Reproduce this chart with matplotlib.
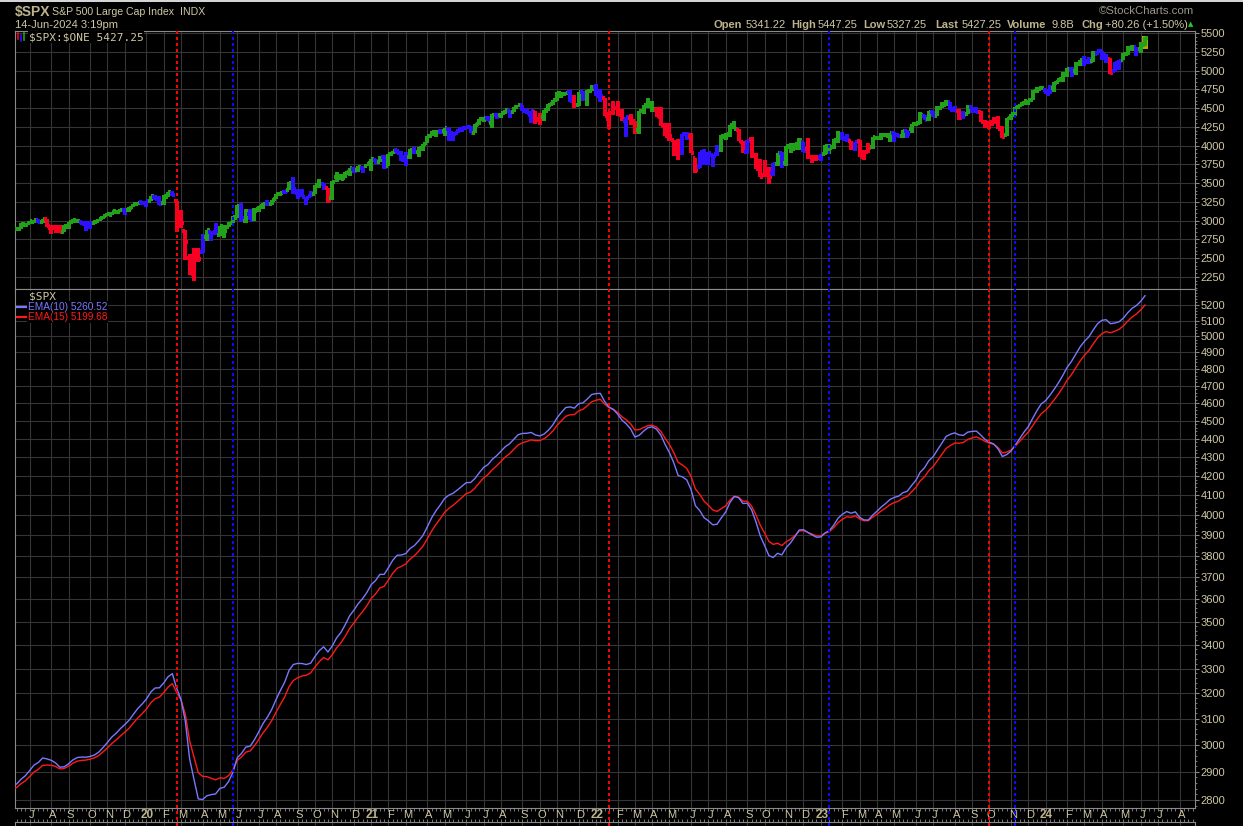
import numpy as np
import pandas as pd
import matplotlib
matplotlib.use("Agg")
import matplotlib.pyplot as plt
from matplotlib.collections import LineCollection
from matplotlib.patches import Rectangle
from matplotlib.lines import Line2D
import matplotlib.transforms as mtransforms
from matplotlib.ticker import FixedLocator, NullLocator, FuncFormatter

plt.rcParams['font.family'] = ['Liberation Sans', 'DejaVu Sans']

# ---------------- data (weekly $SPX, week ending Friday) ----------------
dates = pd.date_range("2019-06-14", periods=262, freq="W-FRI")
axis_weeks = pd.date_range("2019-06-14", "2024-09-13", freq="W-FRI")

opens = [
    2886, 2886, 2952, 2964, 2980, 3012, 2978, 3024, 2899, 2907, 2894, 2855, 2910, 2980, 2996, 2985, 2967, 2944, 2965, 2996,
    3032, 3078, 3081, 3123, 3117, 3143, 3141, 3183, 3227,
    3247, 3218, 3266, 3321, 3247, 3235, 3318, 3369, 3258, 2974, 2863, 2508, 2290, 2514, 2578, 2782, 2845, 2855, 2815, 2915,
    2913, 2970, 3038, 3199, 2993, 3094, 3018, 3155, 3191, 3224, 3219, 3288, 3356, 3380, 3411, 3507, 3369, 3363, 3285, 3325,
    3349, 3500, 3493, 3441, 3296, 3583, 3600, 3566, 3645, 3694, 3675, 3698, 3723,
    3764, 3803, 3788, 3851, 3731, 3892, 3939, 3886, 3842, 3844, 3950, 3916, 3969, 4034, 4128, 4180, 4185, 4191, 4228, 4169,
    4165, 4216, 4230, 4248, 4174, 4284, 4356, 4372, 4297, 4409, 4406, 4437, 4462, 4450, 4513, 4535, 4474, 4402, 4449, 4348,
    4385, 4463, 4554, 4610, 4701, 4689, 4712, 4628, 4538, 4710, 4588, 4733,
    4778, 4655, 4632, 4357, 4431, 4505, 4412, 4333, 4364, 4327, 4202, 4462, 4541, 4548, 4474, 4385, 4255, 4130, 4081, 4013,
    3919, 4149, 4134, 3838, 3715, 3920, 3819, 3880, 3883, 3965, 4113, 4155, 4269, 4205, 4043, 3909, 4084, 3873, 3682, 3609,
    3639, 3638, 3753, 3901, 3765, 3977, 3956, 4023, 4052, 3954, 3853, 3843,
    3853, 3883, 3999, 3978, 4071, 4119, 4096, 4068, 3992, 4055, 3855, 3917, 3982, 4102, 4095, 4140, 4134, 4166, 4136, 4126,
    4190, 4226, 4283, 4300, 4396, 4354, 4450, 4399, 4505, 4547, 4578, 4492, 4458, 4389, 4415, 4510, 4458, 4454, 4312, 4284,
    4289, 4321, 4224, 4139, 4364, 4407, 4511, 4554, 4584, 4610, 4725, 4758,
    4745, 4690, 4772, 4853, 4892, 4957, 5026, 4989, 5093, 5130, 5111, 5123, 5219, 5257, 5211, 5149, 4988, 5084, 5143, 5225,
    5306, 5316, 5283, 5341.22,
]
highs = [
    2910, 2964, 2958, 2996, 3014, 3018, 3028, 3028, 2945, 2943, 2939, 2940, 2985, 3021, 3022, 3000, 2993, 2993, 3008, 3027,
    3066, 3097, 3120, 3127, 3154, 3150, 3182, 3226, 3248,
    3258, 3267, 3329, 3338, 3328, 3348, 3385, 3394, 3260, 3137, 2882, 2562, 2637, 2641, 2818, 2880, 2868, 2965, 2932, 2945,
    2980, 3068, 3211, 3233, 3156, 3155, 3166, 3190, 3240, 3280, 3272, 3352, 3387, 3399, 3509, 3588, 3425, 3428, 3306, 3398,
    3482, 3549, 3502, 3441, 3529, 3645, 3628, 3645, 3699, 3712, 3726, 3711, 3760,
    3827, 3823, 3861, 3870, 3894, 3935, 3950, 3933, 3915, 3960, 3983, 3978, 4021, 4130, 4191, 4195, 4219, 4238, 4238, 4186,
    4219, 4233, 4249, 4257, 4286, 4356, 4372, 4394, 4415, 4429, 4441, 4468, 4480, 4513, 4545, 4535, 4486, 4465, 4466, 4429,
    4475, 4559, 4608, 4718, 4714, 4717, 4743, 4672, 4713, 4731, 4740, 4808,
    4818, 4749, 4632, 4453, 4595, 4590, 4489, 4385, 4416, 4327, 4465, 4546, 4637, 4593, 4521, 4513, 4308, 4307, 4081, 4090,
    4158, 4177, 4168, 3838, 3913, 3951, 3918, 3880, 4013, 4140, 4167, 4280, 4325, 4218, 4062, 4076, 4119, 3899, 3820, 3806,
    3711, 3762, 3905, 3920, 4001, 4029, 4034, 4100, 4052, 4100, 3877, 3878,
    3895, 4003, 4015, 4094, 4195, 4176, 4156, 4068, 4049, 4079, 3937, 4040, 4110, 4133, 4163, 4170, 4170, 4187, 4143, 4212,
    4212, 4290, 4299, 4448, 4409, 4458, 4456, 4527, 4578, 4607, 4585, 4527, 4490, 4458, 4541, 4514, 4511, 4466, 4338, 4324,
    4385, 4393, 4259, 4374, 4415, 4521, 4560, 4595, 4610, 4739, 4778, 4793,
    4754, 4802, 4842, 4907, 4975, 5030, 5048, 5111, 5140, 5189, 5179, 5261, 5265, 5264, 5222, 5168, 5114, 5140, 5239, 5325,
    5341, 5316, 5375, 5447.25,
]
lows = [
    2873, 2883, 2913, 2953, 2963, 2975, 2970, 2915, 2822, 2834, 2834, 2853, 2891, 2964, 2985, 2945, 2856, 2884, 2953, 2992,
    3023, 3066, 3075, 3091, 3115, 3070, 3120, 3180, 3223,
    3215, 3182, 3256, 3280, 3214, 3215, 3318, 3328, 2855, 2901, 2478, 2280, 2192, 2447, 2566, 2727, 2727, 2814, 2798, 2767,
    2913, 2970, 3032, 2984, 2966, 3004, 2999, 3115, 3151, 3208, 3209, 3284, 3329, 3362, 3411, 3350, 3293, 3313, 3209, 3323,
    3349, 3440, 3413, 3233, 3279, 3511, 3543, 3565, 3595, 3633, 3647, 3636, 3723,
    3663, 3750, 3788, 3694, 3725, 3890, 3885, 3789, 3723, 3820, 3895, 3853, 3935, 4034, 4125, 4119, 4168, 4127, 4056, 4061,
    4165, 4182, 4217, 4164, 4173, 4278, 4321, 4327, 4233, 4360, 4368, 4424, 4367, 4450, 4513, 4457, 4421, 4305, 4288, 4278,
    4330, 4459, 4546, 4596, 4630, 4672, 4585, 4495, 4532, 4600, 4531, 4733,
    4662, 4582, 4395, 4222, 4414, 4401, 4327, 4115, 4279, 4157, 4161, 4425, 4506, 4450, 4381, 4267, 4124, 4062, 3858, 3811,
    3875, 4074, 3900, 3637, 3705, 3738, 3742, 3721, 3865, 3912, 4079, 4112, 4218, 4057, 3906, 3886, 3837, 3692, 3584, 3584,
    3491, 3590, 3735, 3698, 3735, 3907, 3938, 3942, 3918, 3828, 3764, 3800,
    3794, 3878, 3886, 3950, 4029, 4079, 4048, 3943, 3928, 3847, 3808, 3908, 3951, 4069, 4077, 4114, 4049, 4048, 4099, 4099,
    4103, 4166, 4258, 4293, 4341, 4328, 4385, 4389, 4503, 4528, 4474, 4443, 4335, 4356, 4415, 4430, 4449, 4316, 4238, 4216,
    4283, 4223, 4103, 4127, 4342, 4394, 4511, 4537, 4547, 4609, 4698, 4751,
    4682, 4682, 4714, 4845, 4853, 4918, 4920, 4946, 5057, 5057, 5105, 5118, 5203, 5146, 5107, 4953, 4985, 5012, 5142, 5211,
    5256, 5191, 5234, 5327.25,
]
closes = [
    2887, 2950, 2942, 2990, 3014, 2977, 3026, 2932, 2919, 2889, 2847, 2926, 2979, 3007, 2992, 2962, 2952, 2970, 2986, 3023,
    3067, 3093, 3120, 3110, 3141, 3146, 3169, 3221, 3240,
    3235, 3265, 3330, 3295, 3226, 3328, 3380, 3338, 2954, 2972, 2711, 2305, 2541, 2489, 2790, 2875, 2837, 2831, 2930, 2864,
    2955, 3044, 3194, 3041, 3098, 3009, 3130, 3185, 3225, 3216, 3271, 3351, 3373, 3397, 3508, 3427, 3341, 3319, 3298, 3348,
    3477, 3484, 3465, 3270, 3509, 3585, 3558, 3638, 3699, 3663, 3709, 3703, 3756,
    3825, 3768, 3841, 3714, 3887, 3935, 3907, 3811, 3842, 3943, 3913, 3975, 4020, 4129, 4185, 4180, 4181, 4233, 4174, 4156,
    4204, 4230, 4247, 4166, 4281, 4352, 4370, 4327, 4412, 4395, 4437, 4468, 4442, 4509, 4535, 4459, 4433, 4455, 4357, 4391,
    4471, 4545, 4605, 4698, 4683, 4698, 4595, 4538, 4712, 4621, 4726, 4766,
    4677, 4663, 4398, 4432, 4501, 4419, 4349, 4385, 4329, 4204, 4463, 4543, 4546, 4488, 4393, 4272, 4132, 4123, 4024, 3901,
    4158, 4109, 3901, 3675, 3912, 3825, 3899, 3863, 3962, 4130, 4145, 4280, 4228, 4058, 3924, 4067, 3873, 3693, 3586, 3640,
    3583, 3753, 3901, 3771, 3993, 3965, 4026, 4072, 3934, 3852, 3845, 3840,
    3895, 3999, 3973, 4071, 4136, 4090, 4079, 3970, 4046, 3862, 3917, 3971, 4109, 4105, 4138, 4134, 4169, 4136, 4124, 4192,
    4151, 4282, 4299, 4410, 4348, 4450, 4399, 4505, 4536, 4582, 4478, 4464, 4370, 4406, 4516, 4457, 4450, 4320, 4288, 4309,
    4328, 4224, 4117, 4358, 4415, 4514, 4559, 4595, 4604, 4719, 4755, 4770,
    4697, 4784, 4840, 4891, 4959, 5027, 5006, 5089, 5137, 5124, 5117, 5234, 5254, 5204, 5123, 4967, 5100, 5128, 5223, 5303,
    5305, 5278, 5347, 5427.25,
]

# EMA values just before the first visible bar (read at the left edge of the lower panel)
ema10_seed = 2850
ema15_seed = 2838

red_signal_dates = ["2020-02-28", "2022-01-28", "2023-10-06"]
blue_signal_dates = ["2020-05-29", "2023-01-20", "2023-11-17"]

price_ticks = list(range(2250, 5501, 250))
ema_ticks = list(range(2800, 5201, 100))
month_letters = ["J", "F", "M", "A", "M", "J", "J", "A", "S", "O", "N", "D"]

# ---------------- styling ----------------
W, H = 1243, 826
BG = "black"
GRID = "#353535"
FRAME = "#8a8a8a"
TAN = "#cfc7a5"
TAN_B = "#bdb48e"
GREEN = "#22a21a"
BLUE = "#2c10ff"
RED = "#f70022"
EMA10_C = "#7b78ff"
EMA15_C = "#ff1a1a"

def fx(px):
    return px / W

def fy(py):
    return 1 - py / H

L, R = 15, 1195
T1, B1 = 31, 289
T2, B2 = 289, 808
X0, DX = 16.7, 4.323           # pixel of first bar, pixels per bar
XLIM = ((L - X0) / DX, (R - X0) / DX)

fig = plt.figure(figsize=(W / 100, H / 100), dpi=100, facecolor=BG)
ax1 = fig.add_axes([fx(L), fy(B1), (R - L) / W, (B1 - T1) / H])
ax2 = fig.add_axes([fx(L), fy(B2), (R - L) / W, (B2 - T2) / H])
ax3 = fig.add_axes([fx(L), 0, (R - L) / W, (H - 822) / H])

n = len(closes)
idx = np.arange(n)

# month grid positions: first bar whose week (Monday) starts in a new month
mondays = axis_weeks - pd.Timedelta(days=4)
month_pos = [i for i in range(1, len(axis_weeks)) if mondays[i].month != mondays[i - 1].month]

for ax in (ax1, ax2, ax3):
    ax.set_facecolor(BG)
    ax.set_xlim(*XLIM)
    for s in ax.spines.values():
        s.set_color(FRAME)
        s.set_linewidth(0.8)
    for m in month_pos:
        ax.axvline(m, color=GRID, lw=0.8, zorder=0)

# ---------------- top panel: OHLC bars ----------------
c = pd.Series(closes, dtype=float)
ema13 = c.ewm(span=13, adjust=False).mean()
macd = c.ewm(span=12, adjust=False).mean() - c.ewm(span=26, adjust=False).mean()
hist = macd - macd.ewm(span=9, adjust=False).mean()
up = (ema13.diff() > 0) & (hist.diff() > 0)
dn = (ema13.diff() < 0) & (hist.diff() < 0)
bar_colors = np.where(up, GREEN, np.where(dn, RED, BLUE))
bar_colors[0] = GREEN

TICK = 0.65
segs, cols = [], []
for i in range(n):
    segs.append([(i, lows[i]), (i, highs[i])])
    segs.append([(i - TICK, opens[i]), (i, opens[i])])
    segs.append([(i, closes[i]), (i + TICK, closes[i])])
    cols += [bar_colors[i]] * 3

last = n - 1
ax1.add_patch(Rectangle((last - 0.75, lows[last] - 40), 1.55, highs[last] - lows[last] + 55,
                        facecolor="#b3a400", edgecolor="none", zorder=2))
ax1.add_collection(LineCollection(segs, colors=cols, linewidths=1.5, antialiaseds=False,
                                  capstyle="butt", zorder=3))

ax1.set_ylim(2090, 5527)
for t in price_ticks:
    ax1.axhline(t, color=GRID, lw=0.8, zorder=0)
ax1.set_xticks([])
ax1.yaxis.tick_right()
ax1.yaxis.set_major_locator(FixedLocator(price_ticks))
ax1.yaxis.set_minor_locator(FixedLocator(list(range(2100, 5501, 50))))
ax1.yaxis.set_major_formatter(FuncFormatter(lambda v, p: f"{int(v)}"))
ax1.tick_params(axis="y", which="major", colors=FRAME, labelcolor=TAN, length=3, width=0.8,
                pad=1, labelsize=8)
ax1.tick_params(axis="y", which="minor", colors=FRAME, length=1.5, width=0.6)

# ---------------- lower panel: EMAs ----------------
ema10 = pd.Series([ema10_seed] + list(closes), dtype=float).ewm(span=10, adjust=False).mean().to_numpy()
ema15 = pd.Series([ema15_seed] + list(closes), dtype=float).ewm(span=15, adjust=False).mean().to_numpy()
xe = np.arange(-1, n)
ax2.plot(xe, ema15, color=EMA15_C, lw=1.0, zorder=3)
ax2.plot(xe, ema10, color=EMA10_C, lw=1.0, zorder=4)

ax2.set_yscale("log")
ax2.set_ylim(2772, 5305)
for t in ema_ticks:
    ax2.axhline(t, color=GRID, lw=0.8, zorder=0)
ax2.yaxis.tick_right()
ax2.yaxis.set_major_locator(FixedLocator(ema_ticks))
ax2.yaxis.set_minor_locator(FixedLocator(list(range(2780, 5301, 20))))
ax2.yaxis.set_major_formatter(FuncFormatter(lambda v, p: f"{int(round(v))}"))
ax2.yaxis.set_minor_formatter(FuncFormatter(lambda v, p: ""))
ax2.tick_params(axis="y", which="major", colors=FRAME, labelcolor=TAN, length=3, width=0.8,
                pad=1, labelsize=8)
ax2.tick_params(axis="y", which="minor", colors=FRAME, length=1.5, width=0.6)
ax2.xaxis.set_major_locator(NullLocator())
ax2.xaxis.set_minor_locator(FixedLocator(list(range(0, len(axis_weeks)))))
ax2.tick_params(axis="x", which="minor", colors=FRAME, length=2, width=0.6, direction="out")

ax3.set_ylim(0, 1)
ax3.set_yticks([])
ax3.spines["bottom"].set_visible(False)
ax3.xaxis.set_major_locator(NullLocator())
ax3.xaxis.set_minor_locator(FixedLocator(list(range(0, len(axis_weeks)))))
ax3.xaxis.set_ticks_position("top")
ax3.tick_params(axis="x", which="minor", colors=FRAME, length=2, width=0.6, direction="out")

# month labels
for m in month_pos:
    if m > XLIM[1] - 1:
        continue
    d = mondays[m]
    if d.month == 1:
        fig.text(fx(X0 + (m + 0.2) * DX), fy(815), f"{d.year % 100:02d}", color=TAN_B,
                 fontsize=8.5, fontweight="bold", ha="center", va="center")
    else:
        fig.text(fx(X0 + (m + 0.4) * DX), fy(815), month_letters[d.month - 1], color=TAN,
                 fontsize=8, ha="center", va="center")

# ---------------- signal lines ----------------
trans = mtransforms.blended_transform_factory(ax1.transData, fig.transFigure)
for dl, colr in ((red_signal_dates, "#ff0000"), (blue_signal_dates, "#0a0aff")):
    for d in dl:
        i = dates.get_loc(pd.Timestamp(d))
        fig.add_artist(Line2D([i, i], [0, fy(T1)], transform=trans, color=colr, lw=1.5,
                              ls=(0, (1.2, 1.8)), dash_capstyle="butt", antialiased=False,
                              zorder=6))

# ---------------- texts ----------------
fig.add_artist(Line2D([0, 1], [1 - 0.5 / H, 1 - 0.5 / H], transform=fig.transFigure,
                      color="white", lw=1.2))
fig.text(fx(15), fy(12), r"\$SPX", color=TAN_B, fontsize=10, fontweight="bold", va="center")
fig.text(fx(52), fy(12), "S&P 500 Large Cap Index", color=TAN, fontsize=7.6, va="center")
fig.text(fx(180), fy(12), "INDX", color=TAN, fontsize=7.6, va="center")
fig.text(fx(15), fy(24.5), "14-Jun-2024 3:19pm", color=TAN, fontsize=8, va="center")
fig.text(fx(1194), fy(11.5), "\u00a9StockCharts.com", color="#9c968a", fontsize=8.2,
         va="center", ha="right")

hdr = [(714, "Open", True), (746, "5341.22", False), (791, "High", True), (818, "5447.25", False),
       (863, "Low", True), (887, "5327.25", False), (935, "Last", True), (962, "5427.25", False),
       (1007, "Volume", True), (1052, "9.8B", False), (1081, "Chg", True),
       (1105, "+80.26 (+1.50%)", False)]
for xp, s, b in hdr:
    fig.text(fx(xp), fy(25.3), s, color=TAN_B if b else TAN, fontsize=8,
             fontweight="bold" if b else "normal", va="center")
fig.text(fx(1191), fy(24.5), "\u25b2", color="#22cc22", fontsize=5, va="center", ha="center",
         family="DejaVu Sans")

# top panel legend
bx = dict(facecolor=BG, edgecolor="none", pad=0.5)
fig.text(fx(29), fy(37), r"\$SPX:\$ONE 5427.25", color=TAN, fontsize=8, va="center",
         family="DejaVu Sans Mono", bbox=bx)
for xp, y0, y1, colr in ((18, 33, 39, RED), (21, 35, 41, BLUE), (24, 33, 40, GREEN)):
    fig.add_artist(Line2D([fx(xp), fx(xp)], [fy(y0), fy(y1)], transform=fig.transFigure,
                          color=colr, lw=1.2))

# lower panel legend
fig.text(fx(29), fy(296.5), r"\$SPX", color=TAN, fontsize=8, va="center",
         family="DejaVu Sans Mono", bbox=bx)
fig.add_artist(Line2D([fx(17), fx(27)], [fy(306.5), fy(306.5)], transform=fig.transFigure,
                      color=EMA10_C, lw=1.6))
fig.add_artist(Line2D([fx(17), fx(27)], [fy(317.5), fy(317.5)], transform=fig.transFigure,
                      color=EMA15_C, lw=1.6))
fig.text(fx(28), fy(306.5), "EMA(10) 5260.52", color=EMA10_C, fontsize=7.3, va="center", bbox=bx)
fig.text(fx(28), fy(317.5), "EMA(15) 5199.68", color=EMA15_C, fontsize=7.3, va="center", bbox=bx)

fig.savefig("out.png", dpi=100, facecolor=BG)
